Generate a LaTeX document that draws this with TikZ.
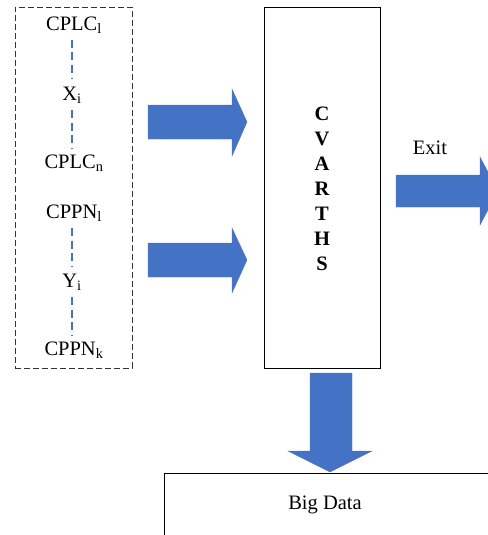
\documentclass[tikz,border=0pt]{standalone}
\usepackage{fontspec}
\setmainfont{Liberation Serif}
\definecolor{arrowblue}{HTML}{4472C4}
\begin{document}
\begin{tikzpicture}[x=1pt,y=-1pt,
  lbl/.style={font=\fontsize{20.5}{24}\selectfont, inner sep=1pt},
  bluedash/.style={draw=arrowblue, line width=1.2pt, dash pattern=on 8pt off 4.5pt},
  blockarrow/.style={fill=arrowblue, draw=arrowblue!70!gray, line width=0.4pt},
  boxline/.style={draw=black, line width=0.8pt}]
\useasboundingbox (0,0) rectangle (487,535);
% dashed input group
\node[draw=black!80, line width=0.8pt, dash pattern=on 6pt off 3pt, minimum width=117pt, minimum height=361pt, inner sep=0pt] (grp) at (73.5,187.5) {};
\node[lbl] (c1) at (74,25) {CPLC\textsubscript{l}};
\node[lbl] (xi) at (72,95) {X\textsubscript{i}};
\node[lbl] (cn) at (74,163) {CPLC\textsubscript{n}};
\node[lbl] (p1) at (74,213) {CPPN\textsubscript{l}};
\node[lbl] (yi) at (72,282) {Y\textsubscript{i}};
\node[lbl] (pk) at (74,350) {CPPN\textsubscript{k}};
\coordinate (d1a) at (72,40); \coordinate (d1b) at (72,79);
\coordinate (d2a) at (72,110); \coordinate (d2b) at (72,148);
\coordinate (d3a) at (72,228); \coordinate (d3b) at (72,266);
\coordinate (d4a) at (72,297); \coordinate (d4b) at (72,335);
\draw[bluedash] (d1a) -- (d1b);
\draw[bluedash] (d2a) -- (d2b);
\draw[bluedash] (d3a) -- (d3b);
\draw[bluedash] (d4a) -- (d4b);
% main box
\node[boxline, draw, minimum width=116pt, minimum height=361pt, inner sep=0pt] (cv) at (322.5,187.5) {};
\node[font=\fontsize{20.5}{25}\selectfont\bfseries, align=center, inner sep=0pt] (cvt) at (322,189) {C\\V\\A\\R\\T\\H\\S};
% input arrows
\draw[blockarrow] (148,105) -- (232,105) -- (232,89) -- (247,122) -- (232,156) -- (232,139) -- (148,139) -- cycle;
\draw[blockarrow] (148,243) -- (232,243) -- (232,228) -- (247,260) -- (232,293) -- (232,277) -- (148,277) -- cycle;
% exit arrow
\node[lbl] (exit) at (430,148) {Exit};
\draw[blockarrow] (396,175) -- (480,175) -- (480,157) -- (498,191) -- (480,225) -- (480,207) -- (396,207) -- cycle;
% down arrow
\draw[blockarrow] (310,373) -- (352,373) -- (352,451) -- (372,451) -- (330,472) -- (288,451) -- (310,451) -- cycle;
% big data box
\coordinate (bdl) at (164,540);
\coordinate (bdc) at (164,473);
\coordinate (bdr) at (492,473);
\draw[boxline] (bdl) -- (bdc) -- (bdr);
\node[lbl] (bd) at (325,505) {Big Data};
\end{tikzpicture}
\end{document}
